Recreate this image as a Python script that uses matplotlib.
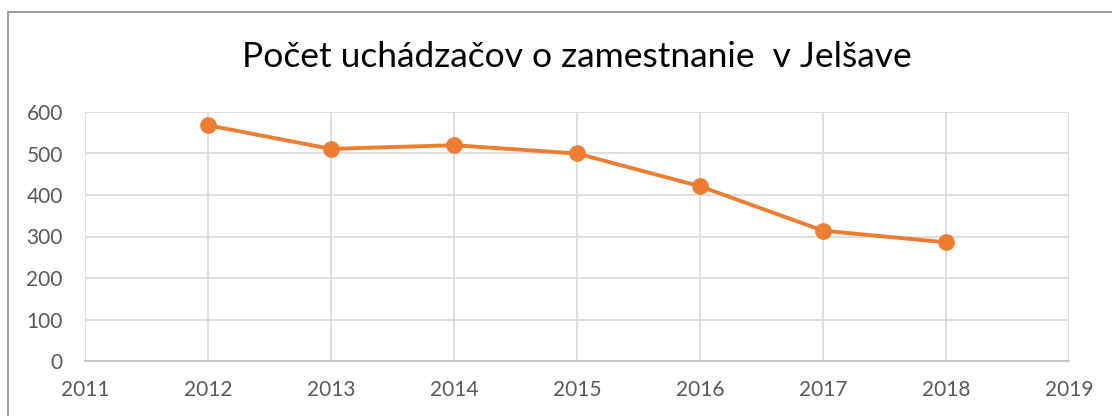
import matplotlib
matplotlib.use("Agg")
import matplotlib.pyplot as plt
from matplotlib.patches import Rectangle

years = [2012, 2013, 2014, 2015, 2016, 2017, 2018]
counts = [568, 511, 520, 500, 421, 314, 286]
x_ticks = list(range(2011, 2020))
y_ticks = [0, 100, 200, 300, 400, 500, 600]
title = "Počet uchádzačov o zamestnanie  v Jelšave"

plt.rcParams['font.family'] = ['Lato', 'DejaVu Sans']

fig = plt.figure(figsize=(11.12, 4.16), dpi=100)
ax = fig.add_axes([85 / 1112, 1 - 361 / 416, (1069 - 85) / 1112, (361 - 112) / 416])

# outer frame of the chart (cut off on the right and bottom)
fig.patches.append(Rectangle((8 / 1112, -0.1), 1.2, 1 - 12 / 416 + 0.1,
                             transform=fig.transFigure, fill=False,
                             edgecolor='#8c8c8c', linewidth=1.2))

ax.plot(years, counts, color='#ED7D31', linewidth=2.8, marker='o',
        markersize=11, zorder=3)

ax.set_xlim(2011, 2019)
ax.set_ylim(0, 600)
ax.set_xticks(x_ticks)
ax.set_yticks(y_ticks)
ax.grid(True, color='#d9d9d9', linewidth=1.2)
ax.set_axisbelow(True)
for side in ['top', 'right', 'left']:
    ax.spines[side].set_visible(False)
ax.spines['bottom'].set_color('#bfbfbf')
ax.spines['bottom'].set_linewidth(1.2)
ax.tick_params(length=0, labelsize=15, labelcolor='#595959')
ax.tick_params(axis='x', pad=14)
ax.tick_params(axis='y', pad=16)

fig.text(577 / 1112, 1 - 57 / 416, title, ha='center', va='center',
         fontsize=25.5, color='black')

fig.savefig('out.png', dpi=100)
